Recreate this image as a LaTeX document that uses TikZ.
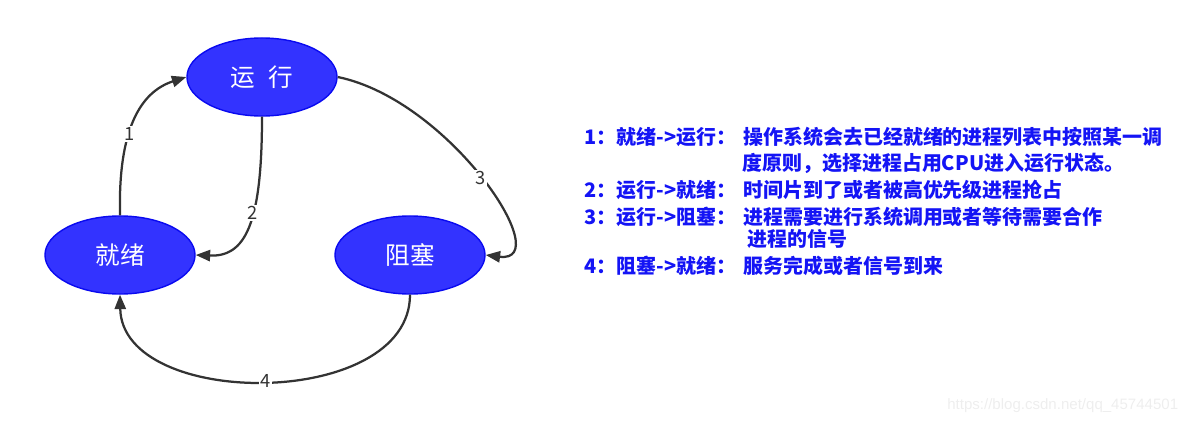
\documentclass[tikz,border=0pt]{standalone}
\usepackage{fontspec}
\setmainfont{Liberation Sans}
\newfontfamily\cjk{Noto Sans CJK SC}
\usetikzlibrary{shapes.geometric,arrows.meta}
\definecolor{statefill}{HTML}{3333FF}
\definecolor{stateline}{HTML}{0A0AF0}
\definecolor{edgecol}{HTML}{333333}
\definecolor{notecol}{HTML}{1414F5}
\definecolor{markcol}{HTML}{EEEEEE}
\tikzset{
  state/.style={ellipse, draw=stateline, fill=statefill, line width=1pt,
    minimum width=3.75cm, minimum height=1.95cm, inner sep=0pt,
    text=white, font=\cjk\fontsize{17.5}{20}\selectfont},
  trans/.style={draw=edgecol, line width=1.6pt,
    -{Triangle[length=0.36cm,width=0.28cm]}},
  tlabel/.style={fill=white, inner sep=1pt, text=edgecol,
    font=\cjk\fontsize{13}{15}\selectfont},
  note/.style={anchor=base west, inner sep=0pt, text=notecol,
    font=\cjk\bfseries\fontsize{14.2}{17}\selectfont},
}
\begin{document}
\begin{tikzpicture}[x=0.025cm,y=-0.025cm]
\useasboundingbox (0,0) rectangle (1197,422);
\node[state] (run) at (262,77) {运\hspace{0.55em}行};
\node[state] (ready) at (120,255) {就绪};
\node[state] (block) at (410,255) {阻塞};

\draw[trans] (ready.north) .. controls (118,130) and (140,92) .. (run.west)
  node[tlabel, pos=0.4] (l1) {1};
\draw[trans] (run.south) .. controls (262,225) and (245,257) .. (ready.east)
  node[tlabel, pos=0.4] (l2) {2};
\draw[trans] (run.east) .. controls (450,100) and (558,264) .. (block.east)
  node[tlabel, pos=0.5] (l3) {3};
\draw[trans] (block.south) .. controls (410,410) and (122,410) .. (ready.south)
  node[tlabel, pos=0.5] (l4) {4};

\node[note] (p1) at (584,144.6) {1：就绪->运行：};
\node[note] (b1) at (743,144.6) {操作系统会去已经就绪的进程列表中按照某一调};
\node[note] (b1b) at (742,170) {度原则，选择进程占用CPU进入运行状态。};
\node[note] (p2) at (584,197.6) {2：运行->就绪：};
\node[note] (b2) at (743,197.6) {时间片到了或者被高优先级进程抢占};
\node[note] (p3) at (584,224) {3：运行->阻塞：};
\node[note] (b3) at (743,224) {进程需要进行系统调用或者等待需要合作};
\node[note] (b3b) at (747,246.6) {进程的信号};
\node[note] (p4) at (584,273.6) {4：阻塞->就绪：};
\node[note] (b4) at (743,273.6) {服务完成或者信号到来};

\node[anchor=base west, inner sep=0pt, text=markcol, font=\fontsize{10.7}{12}\selectfont] (wm) at (947,409) {https://blog.csdn.net/qq\_45744501};
\end{tikzpicture}
\end{document}
